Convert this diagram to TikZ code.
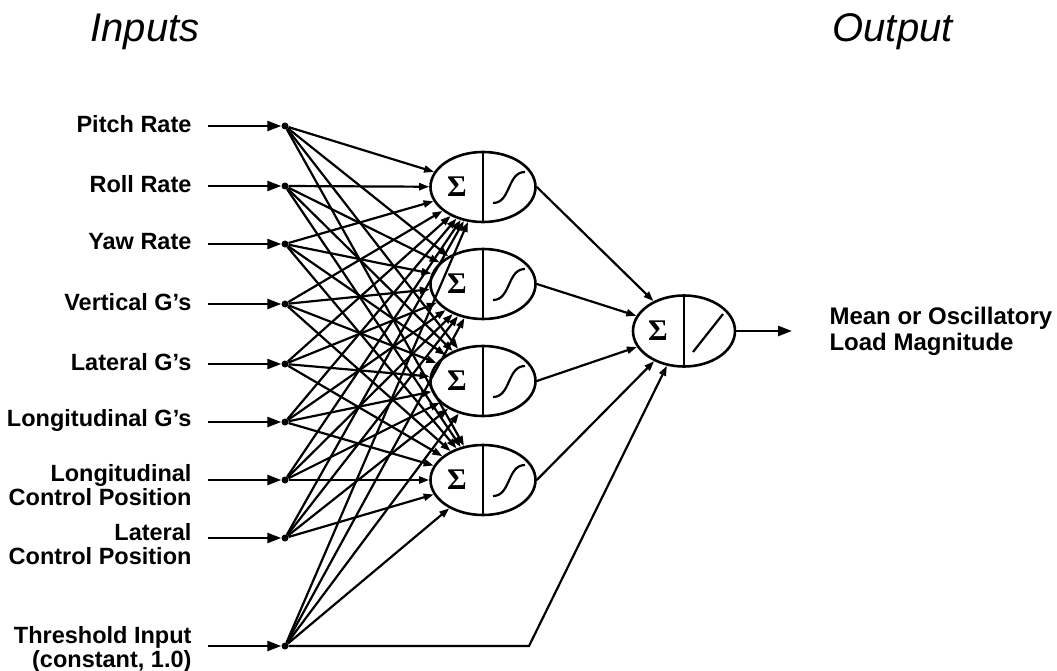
\documentclass[tikz,border=0pt]{standalone}
\usepackage{fontspec}
\usetikzlibrary{arrows.meta,shapes.geometric}
\newfontfamily\lblfont{Liberation Sans}
\newfontfamily\sigfont{Liberation Serif}

\begin{document}
\begin{tikzpicture}[
  x=1pt, y=-1pt,
  lbl/.style={anchor=east, align=right, font=\lblfont\bfseries\fontsize{23.5}{24}\selectfont},
  head/.style={anchor=base west, font=\lblfont\itshape\fontsize{40}{42}\selectfont},
  dot/.style={circle, fill, inner sep=0pt, minimum size=7pt},
  unit/.style={ellipse, draw, line width=2.6pt, minimum width=105pt, minimum height=70pt, inner sep=0pt},
  inarr/.style={-{Triangle[length=14pt,width=10pt]}, line width=2.4pt},
  conn/.style={-{Triangle[length=10pt,width=7pt]}, line width=2.2pt},
  sum/.style={font=\sigfont\bfseries\fontsize{30}{30}\selectfont},
  xfer/.style={line width=2.2pt}
]
\useasboundingbox (0,0) rectangle (1057,671);

\node[head] (hin) at (87,42) {Inputs};
\node[head] (hout) at (829,42) {Output};

% hidden layer
\foreach \y [count=\j] in {187,284,381,480} {
  \node[unit] (h\j) at (483,\y) {};
  \draw[line width=1.8pt] (h\j.north) -- (h\j.south);
  \node[sum] at ([xshift=-26pt]h\j.center) {Σ};
  \draw[xfer, shift={(h\j.center)}] (10,16) .. controls (28,16) and (24,-15) .. (42,-15);
}

% output unit
\node[unit, minimum width=102pt, minimum height=71pt] (out) at (684,331) {};
\draw[line width=1.8pt] (out.north) -- (out.south);
\node[sum] at ([xshift=-26pt]out.center) {Σ};
\draw[xfer, shift={(out.center)}] (9,21) -- (39,-17);
\coordinate (outend) at (792,331);
\draw[inarr] (out.east) -- (outend);
\node[lbl, anchor=west, align=left, font=\lblfont\bfseries\fontsize{24}{26}\selectfont] (load) at (826,331) {Mean or Oscillatory\\Load Magnitude};

% inputs
\foreach \y/\dy/\txt [count=\i] in {
    126/-2/Pitch Rate, 186/-2/Roll Rate, 244/-2/Yaw Rate, 304/-2/Vertical G’s,
    364/-2/Lateral G’s, 422/-2/Longitudinal G’s,
    480/5/{Longitudinal\\Control Position}, 538/6/{Lateral\\Control Position},
    646/3/{Threshold Input\\(constant, 1.0)}} {
  \node[lbl] (l\i) at (195,{\y+\dy}) {\txt};
  \coordinate (s\i) at (208,\y);
  \node[dot] (d\i) at (285,\y) {};
  \draw[inarr] (s\i) -- (d\i);
}

\foreach \i in {1,...,9}
  \foreach \j in {1,...,4}
    \draw[conn] (d\i) -- (h\j);

\foreach \j in {1,...,4}
  \draw[conn] (h\j.east) -- (out);

\coordinate (bend) at (529,646);
\draw[conn] (d9) -- (bend) -- (out);
\end{tikzpicture}
\end{document}
